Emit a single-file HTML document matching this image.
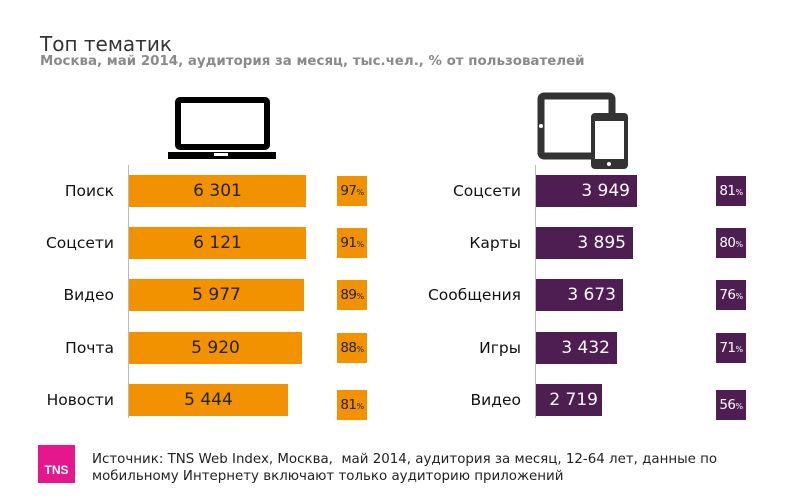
<!DOCTYPE html><html><head><meta charset="utf-8"><style>
body{margin:0;width:800px;height:499px;background:#fff;position:relative;overflow:hidden;font-family:"DejaVu Sans","Liberation Sans",sans-serif}
.a{position:absolute}
.l{position:absolute;width:110px;text-align:right;font-size:15.5px;color:#111;line-height:32px}
.b{position:absolute;height:32px;line-height:32px;font-size:17px;text-align:center}
.o{background:#f39200;color:#222}
.p{background:#4e1d52;color:#fff}
.pc{position:absolute;width:30px;height:30px;line-height:30px;font-size:13.5px;text-align:center;letter-spacing:-0.5px}
.pc small{font-size:8px}
</style></head><body>
<div class="a" style="left:40px;top:32px;font-size:20px;color:#333">Топ тематик</div>
<div class="a" style="left:40px;top:54px;font-size:13.4px;font-weight:bold;color:#8a8a8a">Москва, май 2014, аудитория за месяц, тыс.чел., % от пользователей</div>
<svg class="a" style="left:0;top:0" width="800" height="499">
<rect x="178" y="100" width="89" height="47" fill="none" stroke="#000" stroke-width="6" rx="2"/>
<rect x="168" y="152" width="108" height="7" fill="#000"/>
<rect x="214" y="153" width="14" height="3" fill="#fff"/>
<rect x="541" y="96" width="71" height="60" fill="none" stroke="#333" stroke-width="7" rx="3"/>
<rect x="591" y="113" width="37" height="56" fill="#333" rx="4"/>
<rect x="595" y="121" width="29" height="38" fill="#fff"/>
<circle cx="609" cy="164" r="2" fill="#fff"/>
<circle cx="541" cy="126" r="2" fill="#fff"/>
<line x1="128.5" y1="165" x2="128.5" y2="418" stroke="#bbb"/>
<line x1="535.5" y1="165" x2="535.5" y2="418" stroke="#bbb"/>
</svg>
<div class="l" style="left:4px;top:175px">Поиск</div>
<div class="l" style="left:4px;top:227px">Соцсети</div>
<div class="l" style="left:4px;top:279px">Видео</div>
<div class="l" style="left:4px;top:332px">Почта</div>
<div class="l" style="left:4px;top:384px">Новости</div>
<div class="b o" style="left:129px;top:175px;width:177px">6 301</div>
<div class="b o" style="left:129px;top:227px;width:177px">6 121</div>
<div class="b o" style="left:129px;top:279px;width:175px">5 977</div>
<div class="b o" style="left:129px;top:332px;width:173px">5 920</div>
<div class="b o" style="left:129px;top:384px;width:159px">5 444</div>
<div class="pc o" style="left:337px;top:176px">97<small>%</small></div>
<div class="pc o" style="left:337px;top:228px">91<small>%</small></div>
<div class="pc o" style="left:337px;top:280px">89<small>%</small></div>
<div class="pc o" style="left:337px;top:333px">88<small>%</small></div>
<div class="pc o" style="left:337px;top:390px">81<small>%</small></div>
<div class="l" style="left:411px;top:175px">Соцсети</div>
<div class="l" style="left:411px;top:227px">Карты</div>
<div class="l" style="left:401px;top:279px;width:120px">Сообщения</div>
<div class="l" style="left:411px;top:332px">Игры</div>
<div class="l" style="left:411px;top:384px">Видео</div>
<div class="b p" style="left:536px;top:175px;width:101px;text-align:right"><span style="margin-right:7px">3 949</span></div>
<div class="b p" style="left:536px;top:227px;width:97px;text-align:right"><span style="margin-right:7px">3 895</span></div>
<div class="b p" style="left:536px;top:279px;width:87px;text-align:right"><span style="margin-right:7px">3 673</span></div>
<div class="b p" style="left:536px;top:332px;width:81px;text-align:right"><span style="margin-right:7px">3 432</span></div>
<div class="b p" style="left:536px;top:384px;width:66px;text-align:right"><span style="margin-right:4px">2 719</span></div>
<div class="pc p" style="left:716px;top:176px">81<small>%</small></div>
<div class="pc p" style="left:716px;top:228px">80<small>%</small></div>
<div class="pc p" style="left:716px;top:280px">76<small>%</small></div>
<div class="pc p" style="left:716px;top:333px">71<small>%</small></div>
<div class="pc p" style="left:716px;top:390px">56<small>%</small></div>
<div class="a" style="left:38px;top:445px;width:37px;height:38px;background:#e6168c;color:#fff;font-size:12px;font-weight:bold;text-align:center;line-height:50px;font-family:'Liberation Sans',sans-serif">TNS</div>
<div class="a" style="left:92px;top:451px;font-size:13.4px;color:#222;line-height:17px">Источник: TNS Web Index, Москва,&nbsp; май 2014, аудитория за месяц, 12-64 лет, данные по<br>мобильному Интернету включают только аудиторию приложений</div>
</body></html>
